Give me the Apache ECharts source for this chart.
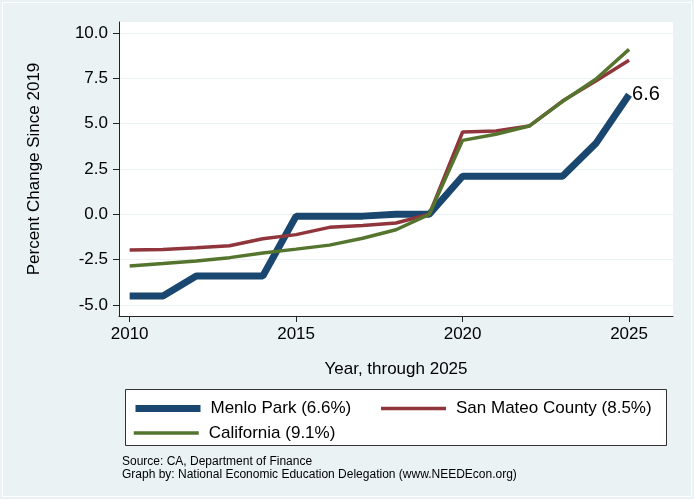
<!DOCTYPE html>
<html>
<head>
<meta charset="utf-8">
<script src="https://cdn.jsdelivr.net/npm/echarts@6/dist/echarts.min.js"></script>
<style>
html,body{margin:0;padding:0;background:#eaf2f3;}
#chart{width:694px;height:499px;}
</style>
</head>
<body>
<div id="chart"></div>
<script>
var years = [2010,2011,2012,2013,2014,2015,2016,2017,2018,2019,2020,2021,2022,2023,2024,2025];
var menloPark = [-4.5,-4.5,-3.4,-3.4,-3.4,-0.1,-0.1,-0.1,0.0,0.0,2.1,2.1,2.1,2.1,3.9,6.6];
var sanMateo = [-1.97,-1.94,-1.84,-1.73,-1.35,-1.12,-0.72,-0.62,-0.48,0.0,4.54,4.6,4.87,6.25,7.35,8.5];
var california = [-2.85,-2.72,-2.57,-2.39,-2.13,-1.92,-1.7,-1.32,-0.85,0.0,4.08,4.42,4.87,6.22,7.45,9.1];
var xTicks = [2010,2015,2020,2025];
var yTicks = [-5,-2.5,0,2.5,5,7.5,10];
var seriesNames = ['Menlo Park (6.6%)','San Mateo County (8.5%)','California (9.1%)'];

var FONT = '"Liberation Sans", Arial, Helvetica, sans-serif';

function pairs(vals){ return years.map(function(y,i){ return [y, vals[i]]; }); }

var chart = echarts.init(document.getElementById('chart'));
chart.setOption({
  backgroundColor:'#eaf2f3',
  animation:false,
  textStyle:{fontFamily:FONT},
  grid:{left:119, top:22, width:554, height:294, show:true, backgroundColor:'#ffffff', borderWidth:0, containLabel:false},
  xAxis:{
    type:'value', min:2009.68, max:2026.32,
    axisLine:{show:true, onZero:false, lineStyle:{color:'#222', width:1}},
    axisTick:{show:true, length:6, lineStyle:{color:'#222'}, customValues: xTicks},
    axisLabel:{fontSize:17, color:'#000', margin:10, customValues: xTicks, formatter:function(v){return String(v);}},
    splitLine:{show:false}
  },
  yAxis:{
    type:'value', min:-5.61, max:10.61,
    axisLine:{show:true, onZero:false, lineStyle:{color:'#222', width:1}},
    axisTick:{show:true, length:6, lineStyle:{color:'#222'}, customValues: yTicks},
    axisLabel:{fontSize:17, color:'#000', margin:11, customValues: yTicks, formatter:function(v){return v.toFixed(1);}},
    splitLine:{show:true, lineStyle:{color:'#eaf2f3', width:1}}
  },
  legend:[
    {data:[seriesNames[0], seriesNames[1]], left:127, top:395, padding:5, itemWidth:65, itemHeight:14, itemGap:28,
     lineStyle:{width:'inherit'},
     textStyle:{fontSize:17, color:'#000', fontFamily:FONT, padding:[0,0,0,5]}, itemStyle:{opacity:0}},
    {data:[seriesNames[2]], left:127, top:419.5, padding:5, itemWidth:65, itemHeight:14,
     lineStyle:{width:'inherit'},
     textStyle:{fontSize:17, color:'#000', fontFamily:FONT, padding:[0,0,0,5]}, itemStyle:{opacity:0}}
  ],
  graphic:[
    {type:'rect', shape:{x:2.5, y:2.5, width:689, height:494}, style:{fill:null, stroke:'#ffffff', lineWidth:1}, silent:true},
    {type:'rect', shape:{x:125.5, y:389.5, width:541, height:56}, style:{fill:'#ffffff', stroke:'#333', lineWidth:1}, silent:true, z:-1},
    {type:'text', x:34, y:169, rotation:Math.PI/2, style:{text:'Percent Change Since 2019', fill:'#000', font:'17px '+FONT, textAlign:'center', textVerticalAlign:'middle'}},
    {type:'text', x:396, y:369, style:{text:'Year, through 2025', fill:'#000', font:'17px '+FONT, textAlign:'center', textVerticalAlign:'middle'}},
    {type:'text', x:122, y:462, style:{text:'Source: CA, Department of Finance', fill:'#000', font:'12px '+FONT, textAlign:'left', textVerticalAlign:'middle'}},
    {type:'text', x:122, y:475, style:{text:'Graph by: National Economic Education Delegation (www.NEEDEcon.org)', fill:'#000', font:'12px '+FONT, textAlign:'left', textVerticalAlign:'middle'}}
  ],
  series:[
    {name:seriesNames[0], type:'line', data:pairs(menloPark), symbol:'none', lineStyle:{color:'#1a476f', width:7}, itemStyle:{color:'#1a476f'},
     endLabel:{show:true, distance:3, fontSize:20, color:'#000', fontFamily:FONT,
               formatter:function(p){ return p.value[1].toFixed(1); }}},
    {name:seriesNames[1], type:'line', data:pairs(sanMateo), symbol:'none', lineStyle:{color:'#90353b', width:3.5}, itemStyle:{color:'#90353b'}},
    {name:seriesNames[2], type:'line', data:pairs(california), symbol:'none', lineStyle:{color:'#55752f', width:3.5}, itemStyle:{color:'#55752f'}}
  ]
});
</script>
</body>
</html>
